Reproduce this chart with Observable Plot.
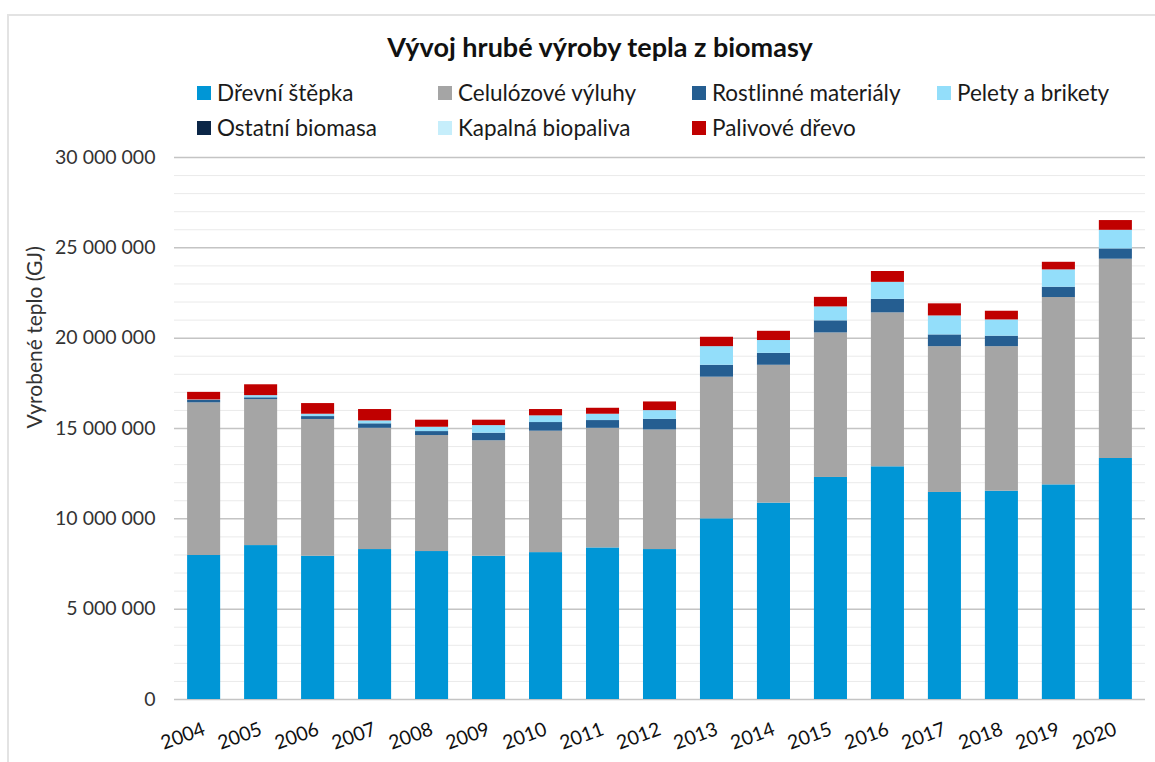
<!DOCTYPE html>
<html>
<head>
<meta charset="utf-8">
<script src="https://cdn.jsdelivr.net/npm/d3@7"></script>
<script src="https://cdn.jsdelivr.net/npm/@observablehq/plot@0.6"></script>
<style>
  html, body { margin: 0; padding: 0; background: #fff; }
  #wrap { position: relative; width: 1155px; height: 762px; overflow: hidden; font-family: Lato, "Open Sans", sans-serif; }
  #frame { position: absolute; left: 7px; top: 14px; width: 1200px; height: 800px; border: 2px solid #E3E3E3; box-sizing: border-box; }
  #title { position: absolute; left: 0; top: 31px; width: 1200px; text-align: center; font-size: 27px; line-height: 32px; font-weight: bold; color: #111; }
  #legend { position: absolute; left: 197px; top: 81px; display: grid; grid-template-columns: 241px 254px 245px 220px; row-gap: 11px; font-size: 22.5px; color: #1a1a1a; }
  .item { display: flex; align-items: center; white-space: nowrap; line-height: 24px; }
  .sw { width: 14px; height: 14px; margin-right: 6px; flex: none; }
  #chart { position: absolute; left: 0; top: 145px; }
</style>
</head>
<body>
<div id="wrap">
  <div id="frame"></div>
  <div id="title">Vývoj hrubé výroby tepla z biomasy</div>
  <div id="legend"></div>
  <div id="chart"></div>
</div>
<script>
const years = ["2004","2005","2006","2007","2008","2009","2010","2011","2012","2013","2014","2015","2016","2017","2018","2019","2020"];
const seriesNames = ["Dřevní štěpka","Celulózové výluhy","Rostlinné materiály","Pelety a brikety","Ostatní biomasa","Kapalná biopaliva","Palivové dřevo"];
const seriesColors = ["#0096D6","#A5A5A5","#255E91","#93DEFA","#0B2647","#C6EEFB","#C00000"];
const yAxisLabel = ["Vyrobené teplo (GJ)"];

const drevniStepka      = [7970000, 8520000, 7930000, 8300000, 8190000, 7930000, 8130000, 8390000, 8300000, 10000000, 10870000, 12290000, 12880000, 11460000, 11530000, 11880000, 13340000];
const celulozoveVyluhy  = [8450000, 8080000, 7570000, 6710000, 6420000, 6390000, 6720000, 6620000, 6620000, 7840000, 7630000, 8000000, 8520000, 8070000, 8000000, 10370000, 11030000];
const rostlinneMaterialy= [130000, 100000, 160000, 250000, 220000, 420000, 480000, 430000, 590000, 660000, 660000, 670000, 750000, 650000, 580000, 570000, 570000];
const peletyBrikety     = [30000, 120000, 130000, 160000, 240000, 420000, 370000, 350000, 480000, 1030000, 710000, 770000, 940000, 1050000, 900000, 960000, 1030000];
const ostatniBiomasa    = [0, 0, 0, 0, 0, 0, 0, 0, 0, 0, 0, 0, 0, 0, 0, 0, 0];
const kapalnaBiopaliva  = [0, 0, 0, 0, 0, 0, 0, 0, 0, 0, 0, 0, 0, 0, 0, 0, 0];
const palivoveDrevo     = [420000, 600000, 590000, 630000, 390000, 300000, 350000, 330000, 480000, 520000, 510000, 530000, 600000, 670000, 480000, 420000, 540000];

const yMajorTicks = [0, 5000000, 10000000, 15000000, 20000000, 25000000, 30000000];
const yMinorTicks = d3.range(0, 30000001, 1000000).filter(v => !yMajorTicks.includes(v));

const seriesValues = [drevniStepka, celulozoveVyluhy, rostlinneMaterialy, peletyBrikety, ostatniBiomasa, kapalnaBiopaliva, palivoveDrevo];
const data = [];
seriesNames.forEach((s, i) => years.forEach((y, j) => data.push({series: s, year: y, value: seriesValues[i][j]})));

// legend
const legend = document.getElementById("legend");
seriesNames.forEach((s, i) => {
  const d = document.createElement("div");
  d.className = "item";
  d.innerHTML = `<span class="sw" style="background:${seriesColors[i]}"></span><span>${s}</span>`;
  legend.appendChild(d);
});

const loc = d3.formatLocale({decimal: ",", thousands: " ", grouping: [3], currency: ["", ""]});
const fmt = loc.format(",d");

const chart = Plot.plot({
  width: 1155,
  height: 617,
  marginTop: 12,
  marginBottom: 63,
  marginLeft: 174,
  marginRight: 10,
  style: {fontFamily: "Lato, 'Open Sans', sans-serif", fontSize: "19.5px", color: "#333", background: "transparent", overflow: "visible"},
  x: {domain: years, paddingInner: 0.42, paddingOuter: 0.23, round: false},
  y: {domain: [0, 30000000]},
  color: {domain: seriesNames, range: seriesColors},
  marks: [
    Plot.ruleY(yMinorTicks, {stroke: "#EAEAEA", strokeWidth: 1}),
    Plot.ruleY(yMajorTicks, {stroke: "#C4C4C4", strokeWidth: 1.5}),
    Plot.barY(data, {x: "year", y: "value", fill: "series", order: seriesNames}),
    Plot.axisY({ticks: yMajorTicks, tickSize: 0, tickPadding: 19, tickFormat: fmt, label: null, fill: "#333"}),
    Plot.text(yAxisLabel, {text: d => d, frameAnchor: "left", dx: -139, rotate: -90, fontSize: 21, fill: "#333"}),
    Plot.axisX({tickSize: 0, tickPadding: 29, tickRotate: -20, label: null, fill: "#111"})
  ]
});
document.getElementById("chart").appendChild(chart);
</script>
</body>
</html>
